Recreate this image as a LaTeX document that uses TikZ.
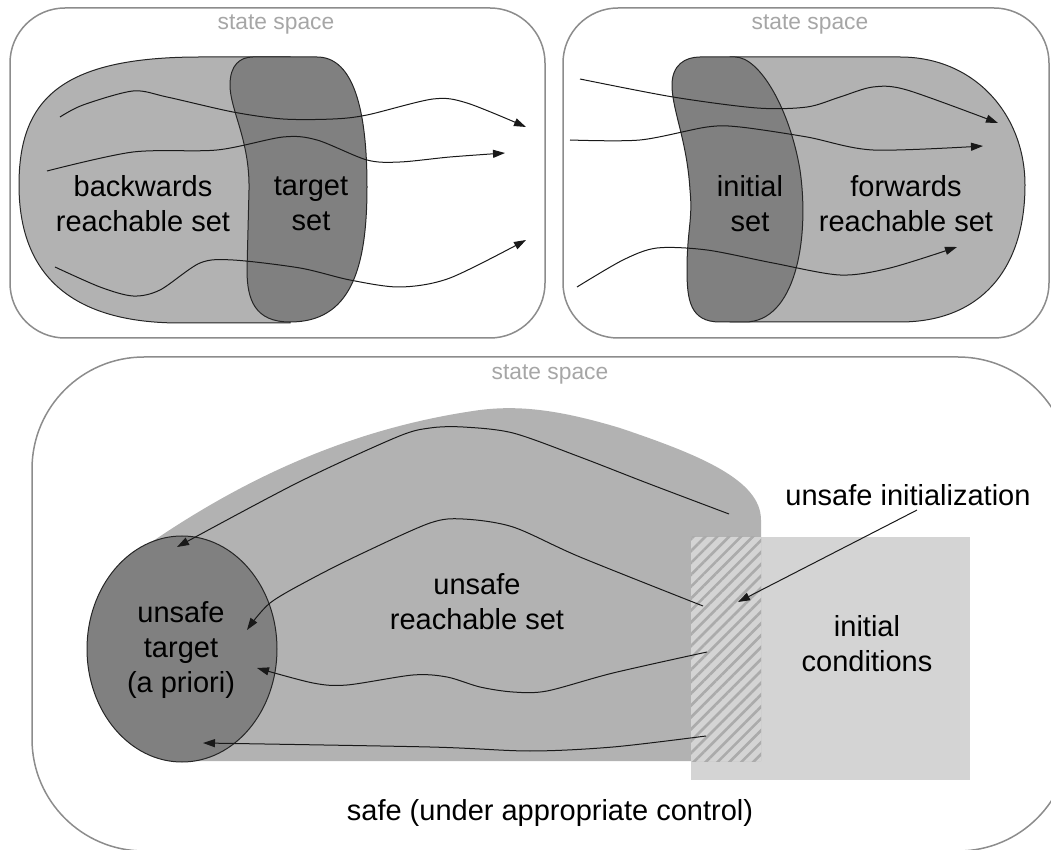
\documentclass[tikz,border=0pt]{standalone}
\usepackage{fontspec}
\setmainfont{Liberation Sans}
\usetikzlibrary{arrows.meta,patterns.meta}

\begin{document}
\begin{tikzpicture}[x=0.5pt,y=-0.5pt,
      frame/.style={
        draw=black!45,
        line width=0.75pt,
        rounded corners=27.5pt
      },
      lightset/.style={
        fill=black!30,
        draw=black!85,
        line width=0.5pt
      },
      darkset/.style={
        fill=black!50,
        draw=black!85,
        line width=0.5pt
      },
      traj/.style={
        draw=black!90,
        line width=0.5pt,
        -{Triangle[length=6pt,width=4pt]}
      },
      lbl/.style={
        font=\fontsize{14.5}{17.5}\selectfont,
        align=center,
        inner sep=0pt
      },
      sslbl/.style={
        font=\fontsize{11.4}{13}\selectfont,
        text=black!35,
        inner sep=0pt
      }
      ]
        \useasboundingbox (0,0) rectangle (1051,850);
        \clip (0,0) rectangle (1051,850);

        % backwards reachability
        \draw[frame] (10,8) rectangle (545,338);
        \node[sslbl] (ss1) at (276,25) {state space};
        \path[lightset] (290,57) -- (200,57) .. controls (60,57) and (19,100) .. (19,185)
            .. controls (19,290) and (90,323) .. (180,323) -- (290,323) -- cycle;
        \path[darkset] (253,57) -- (317,57) .. controls (350,57) and (367,100) .. (367,187)
            .. controls (367,270) and (350,322) .. (290,322) .. controls (255,322) and (247,300) .. (247,270)
            -- (249,190) .. controls (250,140) and (230,110) .. (230,85)
            .. controls (230,65) and (240,57) .. (253,57) -- cycle;
        \draw[traj] plot[smooth] coordinates {(60,117) (83,105) (133,91) (167,97) (233,112) (283,119)
            (333,119) (367,115) (433,99) (467,103) (526,127)};
        \draw[traj] plot[smooth] coordinates {(47,171) (133,152) (217,150) (283,137) (317,140)
            (367,160) (400,162) (450,157) (505,153)};
        \draw[traj] plot[smooth] coordinates {(55,267) (100,287) (133,296) (160,290) (200,263)
            (233,260) (300,268) (350,280) (400,287) (450,278) (526,240)};
        \node[lbl] (brs) at (143,204) {backwards\\reachable set};
        \node[lbl] (ts) at (311,204) {target\\set};

        % forwards reachability
        \draw[frame] (563,8) rectangle (1049,338);
        \node[sslbl] (ss2) at (810,25) {state space};
        \path[lightset] (730,57) -- (900,57) .. controls (975,57) and (1025,115) .. (1025,185)
            .. controls (1025,270) and (980,322) .. (900,322) -- (730,322) -- cycle;
        \path[darkset] (700,57) -- (735,57) .. controls (760,57) and (790,110) .. (800,170)
            .. controls (810,240) and (795,322) .. (745,322) -- (720,322)
            .. controls (690,322) and (687,300) .. (687,270) .. controls (687,230) and (693,220) .. (690,190)
            .. controls (687,140) and (672,110) .. (672,85) .. controls (672,65) and (685,57) .. (700,57) -- cycle;
        \draw[traj] plot[smooth] coordinates {(580,79) (673,97) (757,108) (807,107) (840,97)
            (873,87) (907,90) (998,123)};
        \draw[traj] plot[smooth] coordinates {(570,140) (640,140) (707,127) (740,127) (807,137)
            (873,150) (983,146)};
        \draw[traj] plot[smooth] coordinates {(577,287) (623,260) (657,248) (707,250) (773,263)
            (840,275) (890,268) (957,247)};
        \node[lbl] (is) at (750,204) {initial\\set};
        \node[lbl] (frs) at (906,204) {forwards\\reachable set};

        % safety problem
        \draw[frame, rounded corners=56pt] (32,357) rectangle (1070,851);
        \node[sslbl] (ss3) at (550,374) {state space};
        \fill[black!17] (691,537) rectangle (970,780);
        \fill[black!30] (182,761) -- (761,761) -- (761,520) .. controls (761,480) and (700,455) .. (620,428)
            .. controls (560,410) and (520,405) .. (480,410) .. controls (350,428) and (240,480) .. (140,550)
            -- (182,650) -- cycle;
        \fill[black!17] (691,537) rectangle (761,761);
        \fill[pattern={Lines[angle=45,distance=4.2pt,line width=1.3pt]}, pattern color=black!33]
            (691,537) rectangle (761,761);
        \path[darkset] (182,649) ellipse (95 and 113);
        \draw[traj] plot[smooth] coordinates {(729,514) (647,483) (580,457) (513,433) (463,427)
            (430,428) (397,437) (297,483) (177,547)};
        \draw[traj] plot[smooth] coordinates {(703,606) (580,557) (513,527) (463,519) (430,523)
            (363,553) (313,578) (270,603) (247,630)};
        \draw[traj] plot[smooth] coordinates {(707,652) (613,673) (547,691) (513,692) (480,687)
            (447,677) (413,675) (347,685) (313,683) (257,668)};
        \draw[traj] plot[smooth] coordinates {(706,736) (613,747) (530,751) (430,747) (203,743)};
        \node[lbl] (ut) at (181,650) {unsafe\\target\\(a priori)};
        \node[lbl] (urs) at (477,602) {unsafe\\reachable set};
        \node[lbl] (ic) at (867,644) {initial\\conditions};
        \node[lbl] (ui) at (908,495) {unsafe initialization};
        \coordinate (uitip) at (738,602);
        \draw[traj] ([xshift=4.5pt,yshift=-2pt]ui.south) -- (uitip);
        \node[lbl] (safe) at (550,813) {safe (under appropriate control)};
    \end{tikzpicture}
\end{document}
